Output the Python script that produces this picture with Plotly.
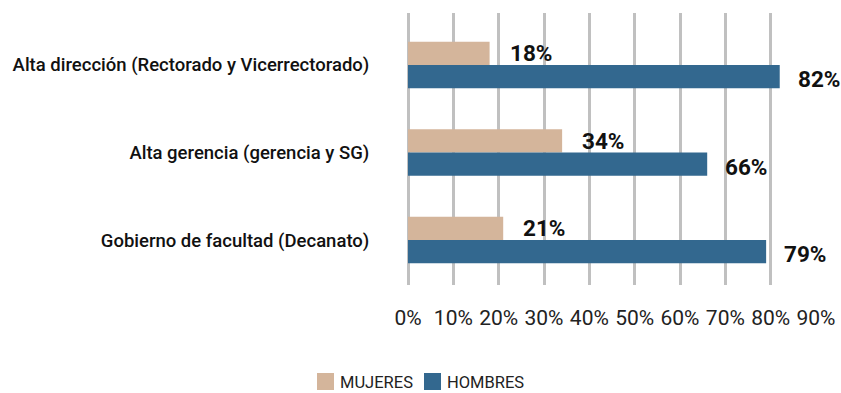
import plotly.graph_objects as go

# Data
categories = [
    "Alta dirección (Rectorado y Vicerrectorado)",
    "Alta gerencia (gerencia y SG)",
    "Gobierno de facultad (Decanato)",
]
mujeres = [18, 34, 21]
hombres = [82, 66, 79]
x_ticks = [0, 10, 20, 30, 40, 50, 60, 70, 80, 90]
x_tick_labels = [f"{v}%" for v in x_ticks]

COLOR_MUJERES = "#D4B59B"
COLOR_HOMBRES = "#33688F"
GRID = "#C0C0C0"
FONT = "Roboto, Liberation Sans, sans-serif"

W, H = 841, 393
M_L, M_R, M_T, M_B = 408, 25, 13, 108
PW, PH = W - M_L - M_R, H - M_T - M_B


def px(x, y):
    """Convert page pixel position to paper coordinates."""
    return (x - M_L) / PW, (H - M_B - y) / PH


fig = go.Figure()
fig.add_trace(go.Bar(
    name="MUJERES", y=categories, x=mujeres, orientation="h",
    marker=dict(color=COLOR_MUJERES, line=dict(width=0)),
    showlegend=False,
))
fig.add_trace(go.Bar(
    name="HOMBRES", y=categories, x=hombres, orientation="h",
    marker=dict(color=COLOR_HOMBRES, line=dict(width=0)),
    showlegend=False,
))

# Value labels beside each bar
annotations = []
for cat, m, h in zip(categories, mujeres, hombres):
    annotations.append(dict(
        x=m, y=cat, xref="x", yref="y", text=f"<b>{m}%</b>", showarrow=False,
        xanchor="left", yanchor="middle", xshift=18, yshift=12,
        font=dict(family=FONT, size=22.5, color="#111111"),
    ))
    annotations.append(dict(
        x=h, y=cat, xref="x", yref="y", text=f"<b>{h}%</b>", showarrow=False,
        xanchor="left", yanchor="middle", xshift=16, yshift=-14,
        font=dict(family=FONT, size=22.5, color="#111111"),
    ))

# Legend drawn as swatches + labels below the chart
shapes = []
legend_items = [("MUJERES", COLOR_MUJERES, 317), ("HOMBRES", COLOR_HOMBRES, 424)]
for label, color, x0 in legend_items:
    ax0, ay0 = px(x0, 373)
    ax1, ay1 = px(x0 + 17, 390)
    shapes.append(dict(type="rect", xref="paper", yref="paper",
                       x0=ax0, y0=ay1, x1=ax1, y1=ay0,
                       fillcolor=color, line=dict(width=0)))
    tx, ty = px(x0 + 21, 382)
    annotations.append(dict(
        x=tx, y=ty, xref="paper", yref="paper", text=label, showarrow=False,
        xanchor="left", yanchor="middle",
        font=dict(family=FONT, size=16.5, color="#222222"),
    ))

fig.update_layout(
    width=W, height=H,
    margin=dict(l=M_L, r=M_R, t=M_T, b=M_B, pad=0),
    paper_bgcolor="white", plot_bgcolor="white",
    barmode="group", bargap=0.47, bargroupgap=0,
    annotations=annotations, shapes=shapes,
    xaxis=dict(
        range=[0, 90], tickvals=x_ticks, ticktext=x_tick_labels,
        tickangle=0, automargin=False,
        showgrid=True, gridcolor=GRID, gridwidth=3,
        zeroline=True, zerolinecolor=GRID, zerolinewidth=3,
        showline=False, ticks="outside", ticklen=14, tickcolor="rgba(0,0,0,0)",
        tickfont=dict(family=FONT, size=21, color="#222222"),
        fixedrange=True,
    ),
    yaxis=dict(
        categoryorder="array", categoryarray=categories,
        range=[2.514, -0.594], automargin=False,
        showgrid=False, zeroline=False, showline=False,
        ticks="outside", ticklen=34, tickcolor="rgba(0,0,0,0)",
        tickfont=dict(family=FONT, size=18.5, color="#111111", weight=500),
        fixedrange=True,
    ),
    font=dict(family=FONT),
)

fig.write_html("out.html")
